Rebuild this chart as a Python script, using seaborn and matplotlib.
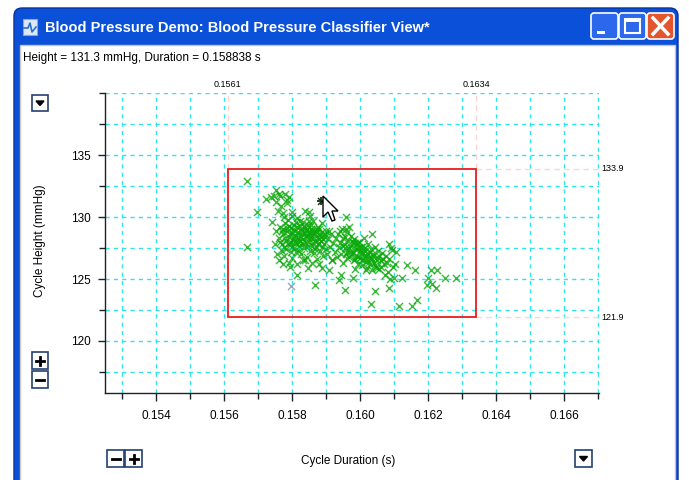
import numpy as np
import pandas as pd
import matplotlib
matplotlib.use("Agg")
import matplotlib.pyplot as plt
from matplotlib.patches import Rectangle, FancyBboxPatch, Polygon
from matplotlib.ticker import MultipleLocator, FormatStrFormatter
import seaborn as sns

# ---------------- data ----------------
window_title = "Blood Pressure Demo: Blood Pressure Classifier View*"
status_text = "Height = 131.3 mmHg, Duration = 0.158838 s"
x_label = "Cycle Duration (s)"
y_label = "Cycle Height (mmHg)"

duration = [
    0.15668, 0.15696, 0.15668,
    0.15723, 0.15738, 0.15753, 0.15760, 0.15778, 0.15783, 0.15753, 0.15768, 0.15783,
    0.15758, 0.15773, 0.15798, 0.15848, 0.15853, 0.15838,
    0.15745, 0.15765, 0.15790, 0.15775, 0.15800,
    0.15740, 0.15752, 0.15760, 0.15765, 0.15770, 0.15772, 0.15778, 0.15780, 0.15782, 0.15785,
    0.15788, 0.15790, 0.15792, 0.15795, 0.15798, 0.15800, 0.15802, 0.15805, 0.15807, 0.15810,
    0.15812, 0.15814, 0.15816, 0.15818, 0.15820, 0.15822, 0.15824, 0.15826, 0.15828, 0.15830,
    0.15832, 0.15834, 0.15836, 0.15838, 0.15840, 0.15842, 0.15844, 0.15846, 0.15848, 0.15850,
    0.15852, 0.15854, 0.15856, 0.15858, 0.15860, 0.15862, 0.15864, 0.15866, 0.15868, 0.15870,
    0.15872, 0.15874, 0.15876, 0.15878, 0.15880, 0.15882, 0.15884, 0.15886, 0.15888, 0.15890,
    0.15892, 0.15895, 0.15898, 0.15900, 0.15903, 0.15906, 0.15910, 0.15913, 0.15916, 0.15920,
    0.15924, 0.15928, 0.15932, 0.15936, 0.15940, 0.15944, 0.15948, 0.15952, 0.15956, 0.15960,
    0.15755, 0.15762, 0.15775, 0.15790, 0.15800, 0.15815, 0.15830, 0.15845, 0.15858, 0.15770,
    0.15748,
    0.15765, 0.15772, 0.15778, 0.15786, 0.15791, 0.15796, 0.15801, 0.15806, 0.15809, 0.15813,
    0.15817, 0.15821, 0.15825, 0.15827, 0.15831, 0.15835, 0.15839, 0.15843, 0.15847, 0.15851,
    0.15855, 0.15859, 0.15863, 0.15867, 0.15871, 0.15875, 0.15879, 0.15883, 0.15887, 0.15891,
    0.15796, 0.15806, 0.15819, 0.15829, 0.15841, 0.15853, 0.15865, 0.15877, 0.15808, 0.15794,
    0.15784, 0.15776, 0.15769, 0.15823, 0.15811, 0.15849, 0.15861, 0.15873, 0.15897, 0.15909,
    0.15935, 0.15940, 0.15945, 0.15950, 0.15955, 0.15960, 0.15962, 0.15965, 0.15968, 0.15970,
    0.15972, 0.15975, 0.15978, 0.15980, 0.15982, 0.15985, 0.15988, 0.15990, 0.15992, 0.15995,
    0.15998, 0.16000, 0.16002, 0.16005, 0.16008, 0.16010, 0.16012, 0.16015, 0.16018, 0.16020,
    0.16022, 0.16025, 0.16028, 0.16030, 0.16033, 0.16036, 0.16040, 0.16043, 0.16046, 0.16050,
    0.16053, 0.16056, 0.16060, 0.16065, 0.16070, 0.16075, 0.16080, 0.16085, 0.16090, 0.16095,
    0.15948, 0.15958, 0.15966, 0.15974, 0.15979, 0.15984, 0.15989, 0.15993, 0.15997, 0.16001,
    0.16004, 0.16007, 0.16011, 0.16014, 0.16017, 0.16021, 0.16024, 0.16027, 0.16031, 0.16035,
    0.16038, 0.16042, 0.16048, 0.16054, 0.16062, 0.16068, 0.16078, 0.15983, 0.15969, 0.15994,
    0.15958, 0.15968, 0.15958, 0.16033, 0.16083, 0.16093, 0.16106, 0.16138, 0.16160, 0.16123,
    0.16098, 0.16208, 0.16225, 0.16248, 0.16280, 0.16200, 0.16196, 0.16210, 0.16223, 0.16083,
    0.16043, 0.16030, 0.16113, 0.16153, 0.16168, 0.15955, 0.15938, 0.15978, 0.15868, 0.15813,
    0.15793, 0.15773, 0.15888, 0.15908, 0.15943, 0.15838, 0.15878, 0.15918, 0.15983, 0.16018,
    0.16048, 0.16073, 0.16088, 0.16103,
]
height = [
    132.9, 130.4, 127.6,
    131.5, 131.6, 132.2, 131.9, 131.9, 131.4, 131.2, 130.9, 131.1,
    130.5, 130.3, 130.4, 130.4, 130.1, 130.5,
    131.7, 131.7, 131.6, 130.0, 130.1,
    129.6, 128.9, 128.3, 129.2, 127.8, 128.6, 129.5, 128.1, 127.4, 128.9,
    129.8, 128.4, 127.9, 129.1, 128.7, 127.6, 128.2, 129.4, 128.9, 127.2,
    128.5, 129.9, 128.0, 128.8, 127.7, 129.3, 128.4, 127.0, 128.9, 129.6,
    128.2, 127.5, 128.7, 129.1, 127.9, 128.4, 126.8, 129.4, 128.0, 128.8,
    127.3, 129.0, 128.3, 127.7, 128.6, 129.7, 127.1, 128.1, 128.9, 127.6,
    126.6, 128.4, 129.2, 127.9, 128.6, 127.3, 128.1, 129.5, 128.8, 126.9,
    127.8, 128.4, 127.4, 128.9, 127.0, 128.2, 127.6, 128.6, 126.5, 127.9,
    127.2, 128.3, 126.8, 127.6, 128.9, 127.0, 126.3, 127.8, 128.4, 126.7,
    127.0, 126.5, 126.9, 126.3, 126.7, 126.2, 126.5, 125.9, 126.3, 127.3,
    127.8,
    128.0, 129.0, 128.3, 127.8, 129.3, 128.0, 129.0, 128.5, 127.9, 129.2,
    128.4, 128.1, 129.0, 128.6, 127.8, 129.3, 128.5, 129.0, 127.7, 128.4,
    129.4, 128.9, 128.3, 127.4, 128.8, 127.8, 129.0, 128.4, 127.6, 128.2,
    127.2, 127.5, 127.3, 127.9, 128.9, 128.6, 128.7, 128.2, 128.1, 128.6,
    129.1, 127.6, 128.9, 129.7, 129.6, 129.7, 127.9, 129.0, 128.6, 128.9,
    128.6, 127.9, 129.0, 128.3, 127.5, 128.8, 127.2, 128.1, 126.8, 127.7,
    128.5, 127.0, 127.9, 126.5, 128.2, 127.4, 126.9, 127.8, 126.2, 128.0,
    127.3, 126.7, 127.6, 126.1, 127.1, 128.3, 126.5, 127.5, 126.9, 125.9,
    127.8, 126.4, 127.2, 126.7, 125.7, 127.0, 126.3, 127.6, 126.0, 126.8,
    127.3, 125.8, 126.5, 127.1, 126.2, 126.9, 125.6, 126.6, 127.5, 126.0,
    127.7, 127.0, 127.5, 128.1, 127.2, 127.9, 127.4, 126.8, 127.6, 127.1,
    126.5, 127.7, 126.9, 127.3, 126.4, 127.0, 126.8, 126.2, 127.4, 126.6,
    126.9, 126.1, 126.5, 126.9, 126.0, 126.6, 126.3, 126.6, 127.2, 127.9,
    130.0, 129.2, 129.05, 128.6, 127.8, 127.35, 127.2, 126.1, 125.7, 125.1,
    125.1, 125.7, 125.7, 125.1, 125.1, 125.1, 124.5, 124.6, 124.3, 124.3,
    124.05, 123.0, 122.8, 122.8, 123.3, 124.1, 124.9, 125.1, 124.5, 125.35,
    126.0, 126.2, 125.9, 125.7, 125.3, 126.5, 126.2, 126.5, 125.8, 125.7,
    125.9, 125.3, 125.0, 126.2,
]
excluded_duration = [0.15796]
excluded_height = [124.45]
selected_duration = [0.15884]
selected_height = [131.3]

box_duration = [0.1561, 0.1634]
box_height = [121.9, 133.9]
box_duration_labels = ["0.1561", "0.1634"]
box_height_labels = ["121.9", "133.9"]

x_major = [0.154, 0.156, 0.158, 0.160, 0.162, 0.164, 0.166]
y_major = [120, 125, 130, 135]

# ---------------- figure ----------------
W, H = 689, 480
fig = plt.figure(figsize=(W / 100, H / 100), dpi=100)
fig.patch.set_facecolor("white")
plt.rcParams["font.family"] = ["Liberation Sans", "DejaVu Sans"]

# chrome layer (pixel coordinates, y down)
bg = fig.add_axes([0, 0, 1, 1], zorder=0)
bg.set_xlim(0, W)
bg.set_ylim(H, 0)
bg.axis("off")

frame = FancyBboxPatch((14, 8), 664, 490, boxstyle="round,pad=0,rounding_size=8",
                       facecolor="#0a50d8", edgecolor="#0831a0", lw=1)
bg.add_patch(frame)
grad = np.array([
    [0.30, 0.58, 0.97], [0.16, 0.47, 0.95], [0.06, 0.40, 0.92], [0.04, 0.36, 0.90],
    [0.04, 0.34, 0.88], [0.04, 0.33, 0.87], [0.04, 0.33, 0.87], [0.04, 0.33, 0.86],
    [0.05, 0.34, 0.87], [0.06, 0.36, 0.89], [0.06, 0.36, 0.88], [0.04, 0.32, 0.82],
])
im = bg.imshow(grad[:, None, :], extent=[14, 678, 46, 8], aspect="auto", interpolation="bilinear")
im.set_clip_path(frame)
bg.add_patch(Rectangle((20, 45), 655, 440, facecolor="white", edgecolor="#c9c5b8", lw=1))

# window icon
bg.add_patch(Rectangle((23, 19), 14, 16, facecolor="#dde8f4", edgecolor="#8fa6c8", lw=0.8))
bg.plot([24, 28, 30, 32, 36], [28, 28, 23, 32, 27], color="#2a6fd0", lw=1.2)
fig.text(45 / W, 1 - 28 / H, window_title, color="white", fontsize=10.5, fontweight="bold",
         va="center", ha="left")

# title bar buttons
for x0, col in [(591, "#2b68ec"), (619, "#2b68ec"), (647, "#e2552d")]:
    bg.add_patch(FancyBboxPatch((x0, 13), 27, 26, boxstyle="round,pad=0,rounding_size=3",
                                facecolor=col, edgecolor="white", lw=1.2))
bg.add_patch(Rectangle((597, 31), 8, 3, facecolor="white", edgecolor="none"))
bg.add_patch(Rectangle((625, 19), 15, 14, facecolor="none", edgecolor="white", lw=1.5))
bg.add_patch(Rectangle((625, 19), 15, 3, facecolor="white", edgecolor="none"))
bg.plot([653, 668], [18, 34], color="white", lw=2.5)
bg.plot([653, 668], [34, 18], color="white", lw=2.5)

fig.text(23 / W, 1 - 58 / H, status_text, fontsize=8.5, va="center", ha="left", color="black")

# small control buttons
def box(x0, y0, w, h, glyph):
    bg.add_patch(Rectangle((x0, y0), w, h, facecolor="white", edgecolor="#24406e", lw=1.2))
    cx, cy = x0 + w / 2, y0 + h / 2
    if glyph == "down":
        bg.add_patch(Polygon([(cx - 4, cy - 2), (cx + 4, cy - 2), (cx, cy + 2.5)],
                             facecolor="black", edgecolor="black"))
    if glyph in ("plus", "minus"):
        bg.plot([cx - 4, cx + 4], [cy, cy], color="black", lw=2)
    if glyph == "plus":
        bg.plot([cx, cx], [cy - 4, cy + 4], color="black", lw=2)

box(32, 95, 16, 16, "down")
box(32, 352, 16, 17, "plus")
box(32, 371, 16, 17, "minus")
box(107, 450, 17, 17, "minus")
box(125, 450, 17, 17, "plus")
box(575, 450, 17, 17, "down")

fig.text(40 / W, 1 - 241 / H, y_label, rotation=90, fontsize=8.5, va="center", ha="center")
fig.text(348 / W, 1 - 461 / H, x_label, fontsize=8.5, va="center", ha="center")

# ---------------- main plot ----------------
L, R, T, B = 104.7, 598.7, 93, 393
ax = fig.add_axes([L / W, 1 - B / H, (R - L) / W, (B - T) / H], zorder=1)
ax.set_facecolor("none")
ax.set_xlim(0.15248, 0.16701)
ax.set_ylim(115.8, 140.02)

ax.xaxis.set_major_locator(MultipleLocator(0.002))
ax.xaxis.set_minor_locator(MultipleLocator(0.001))
ax.yaxis.set_major_locator(MultipleLocator(5))
ax.yaxis.set_minor_locator(MultipleLocator(2.5))
ax.xaxis.set_major_formatter(FormatStrFormatter("%.3f"))
ax.yaxis.set_major_formatter(FormatStrFormatter("%d"))
ax.grid(True, which="both", axis="both", color="#2de6ec", lw=1.0, dashes=(3, 3))
ax.set_axisbelow(True)
ax.set_xticks(x_major)
ax.set_yticks(y_major)
for s in ["top", "right"]:
    ax.spines[s].set_visible(False)
for s in ["left", "bottom"]:
    ax.spines[s].set_color("#222222")
    ax.spines[s].set_linewidth(1.0)
ax.tick_params(axis="x", which="major", length=6, width=1, color="#222222", pad=6, labelsize=8.5)
ax.tick_params(axis="x", which="minor", length=4, width=1, color="#222222")
ax.tick_params(axis="y", which="major", length=5, width=1, color="#222222", pad=5, labelsize=8.5)
ax.tick_params(axis="y", which="minor", length=4, width=1, color="#222222")

# classifier box and guide lines
pink = "#ffd3d3"
ax.plot([box_duration[0]] * 2, [box_height[1], 140], color=pink, lw=1, dashes=(4, 3))
ax.plot([box_duration[1]] * 2, [box_height[1], 140], color=pink, lw=1, dashes=(4, 3))
ax.plot([box_duration[1], 0.167], [box_height[1]] * 2, color=pink, lw=1, dashes=(4, 3))
ax.plot([box_duration[1], 0.167], [box_height[0]] * 2, color=pink, lw=1, dashes=(4, 3))
ax.add_patch(Rectangle((box_duration[0], box_height[0]), box_duration[1] - box_duration[0],
                       box_height[1] - box_height[0], fill=False, edgecolor="#e81d1d", lw=1.3, zorder=3))

df = pd.DataFrame({"duration": duration, "height": height})
sns.scatterplot(data=df, x="duration", y="height", ax=ax, marker="x", color="#09a809",
                s=26, linewidth=1.0, alpha=0.8, zorder=4, legend=False)
sns.scatterplot(x=excluded_duration, y=excluded_height, ax=ax, marker="x", color="#9aa8b8",
                s=26, linewidth=1.0, zorder=4, legend=False)
sns.scatterplot(x=selected_duration, y=selected_height, ax=ax, marker="+", color="#113311",
                s=40, linewidth=1.3, zorder=5, legend=False)
sns.scatterplot(x=selected_duration, y=selected_height, ax=ax, marker="x", color="#113311",
                s=25, linewidth=1.0, zorder=5, legend=False)
ax.set_xlabel("")
ax.set_ylabel("")

for xv, lab in zip(box_duration, box_duration_labels):
    ax.annotate(lab, xy=(xv, 1.0), xycoords=("data", "axes fraction"), xytext=(0, 6),
                textcoords="offset points", ha="center", va="center", fontsize=6.5)
for yv, lab in zip(box_height, box_height_labels):
    ax.annotate(lab, xy=(1.0, yv), xycoords=("axes fraction", "data"), xytext=(10, 0),
                textcoords="offset points", ha="center", va="center", fontsize=6.5)

# mouse cursor overlay
ov = fig.add_axes([0, 0, 1, 1], zorder=2)
ov.set_xlim(0, W)
ov.set_ylim(H, 0)
ov.axis("off")
tip = (323, 196)
arrow = [(0, 0), (0, 21), (5, 16), (9, 25), (12, 24), (9, 15), (15, 15)]
ov.add_patch(Polygon([(tip[0] + a, tip[1] + b) for a, b in arrow], closed=True,
                     facecolor="white", edgecolor="black", lw=1))

fig.savefig("out.png", dpi=100)
